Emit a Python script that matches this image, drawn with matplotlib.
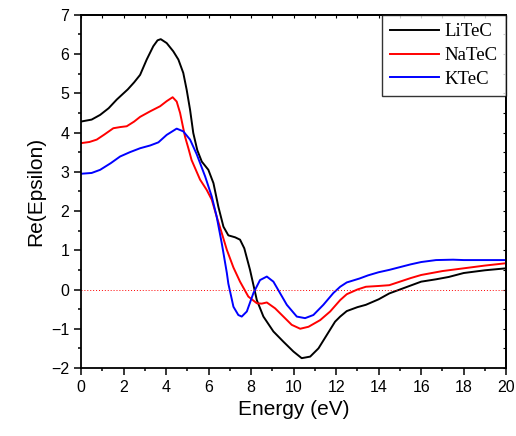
import numpy as np
import matplotlib
matplotlib.use('Agg')
import matplotlib.pyplot as plt

# Re(epsilon) vs photon energy
e_li = [0.0, 0.5, 0.9, 1.3, 1.68, 2.2, 2.5, 2.78, 3.09, 3.4, 3.6, 3.75, 4.03, 4.34, 4.58,
        4.81, 4.97, 5.13, 5.28, 5.47, 5.68, 5.99, 6.23, 6.46, 6.7, 6.93, 7.25, 7.48, 7.68,
        7.95, 8.27, 8.58, 9.05, 9.52, 9.99, 10.38, 10.78, 11.17, 11.56, 11.95, 12.19, 12.5,
        13.0, 13.4, 14.0, 14.5, 15.0, 15.5, 16.0, 16.7, 17.3, 18.0, 19.0, 20.0]
v_li = [4.28, 4.33, 4.45, 4.62, 4.84, 5.1, 5.28, 5.47, 5.86, 6.2, 6.35, 6.38, 6.28, 6.07, 5.86,
        5.52, 5.09, 4.58, 3.99, 3.55, 3.26, 3.05, 2.71, 2.11, 1.6, 1.38, 1.33, 1.27, 1.05,
        0.5, -0.27, -0.69, -1.07, -1.33, -1.58, -1.75, -1.71, -1.5, -1.16, -0.82, -0.69, -0.55,
        -0.45, -0.39, -0.25, -0.1, 0.0, 0.1, 0.2, 0.26, 0.32, 0.42, 0.49, 0.54]

e_na = [0.0, 0.4, 0.74, 1.1, 1.52, 1.85, 2.15, 2.5, 2.78, 3.25, 3.72, 4.03, 4.31, 4.5, 4.66,
        4.89, 5.05, 5.2, 5.36, 5.6, 5.91, 6.15, 6.38, 6.62, 6.86, 7.17, 7.48, 7.87, 8.27,
        8.5, 8.74, 9.13, 9.52, 9.91, 10.31, 10.7, 11.25, 11.72, 12.19, 12.5, 13.0, 13.4,
        14.0, 14.5, 15.0, 15.5, 16.0, 17.0, 18.0, 19.0, 20.0]
v_na = [3.73, 3.76, 3.82, 3.95, 4.11, 4.14, 4.16, 4.28, 4.4, 4.54, 4.67, 4.8, 4.9, 4.79, 4.5,
        3.9, 3.6, 3.3, 3.1, 2.8, 2.54, 2.29, 1.86, 1.44, 1.01, 0.56, 0.2, -0.18, -0.35,
        -0.36, -0.33, -0.48, -0.69, -0.9, -1.0, -0.95, -0.78, -0.56, -0.27, -0.12, 0.0, 0.07,
        0.09, 0.11, 0.2, 0.29, 0.37, 0.47, 0.54, 0.61, 0.67]

e_k = [0.0, 0.5, 0.9, 1.4, 1.84, 2.3, 2.78, 3.25, 3.64, 4.03, 4.5, 4.81, 5.13, 5.44, 5.84,
       6.15, 6.38, 6.62, 6.7, 6.86, 6.93, 7.17, 7.4, 7.56, 7.8, 8.11, 8.42, 8.74, 9.05,
       9.36, 9.68, 10.15, 10.54, 10.93, 11.4, 11.87, 12.19, 12.5, 13.1, 13.5, 14.0, 14.5,
       15.0, 15.5, 16.0, 16.7, 17.5, 18.0, 19.0, 20.0]
v_k = [2.95, 2.97, 3.05, 3.22, 3.39, 3.5, 3.6, 3.67, 3.75, 3.94, 4.1, 4.03, 3.82, 3.45, 2.88,
       2.37, 1.86, 1.18, 0.93, 0.42, 0.15, -0.44, -0.65, -0.69, -0.56, -0.09, 0.24, 0.33, 0.2,
       -0.09, -0.39, -0.69, -0.73, -0.65, -0.39, -0.09, 0.07, 0.18, 0.28, 0.36, 0.44, 0.5,
       0.57, 0.64, 0.7, 0.75, 0.76, 0.75, 0.75, 0.75]

labels = ['LiTeC', 'NaTeC', 'KTeC']
colors = ['black', 'red', 'blue']

plt.rcParams['font.family'] = ['Liberation Sans', 'DejaVu Sans']
fig = plt.figure(figsize=(5.16, 4.36), dpi=100)
ax = fig.add_axes([0.157, 0.156, 0.824, 0.81])

for e, v, lab, c in zip([e_li, e_na, e_k], [v_li, v_na, v_k], labels, colors):
    ax.plot(e, v, color=c, lw=1.4, label=lab, solid_joinstyle='round')
ax.plot([0, 20], [0, 0], color='red', lw=0.7, ls=(0, (1, 2)))

ax.set_xlim(0, 20)
ax.set_ylim(-2, 7)
ax.set_xticks(np.arange(0, 21, 2))
ax.set_yticks(np.arange(-2, 8, 1))
ax.set_xticks(np.arange(0, 21, 1), minor=True)
ax.set_yticks(np.arange(-2, 7.01, 0.5), minor=True)
ax.tick_params(which='both', direction='out', labelsize=11.5, width=1.1)
ax.tick_params(which='major', length=5)
ax.tick_params(which='minor', length=2.5)

# Origin-style short inner ticks on the opposite spines
sec_x = ax.secondary_xaxis('top')
sec_x.set_xticks(np.arange(0, 21, 1))
sec_x.tick_params(direction='in', length=2, width=0.8, labeltop=False)
sec_y = ax.secondary_yaxis('right')
sec_y.set_yticks(np.arange(-2, 7.01, 0.5))
sec_y.tick_params(direction='in', length=2, width=0.8, labelright=False)
for s in ax.spines.values():
    s.set_linewidth(1.3)
sec_x.spines['top'].set_linewidth(1.3)
sec_y.spines['right'].set_linewidth(1.3)

ax.set_xlabel('Energy (eV)', fontsize=15)
ax.set_ylabel('Re(Epsilon)', fontsize=15)

leg = ax.legend(loc='upper right', frameon=True, fancybox=False, edgecolor='black',
                prop={'family': 'Liberation Serif', 'size': 13.5}, handlelength=2.6,
                borderaxespad=0.0, labelspacing=0.35, handletextpad=0.3, borderpad=0.45)
leg.get_frame().set_linewidth(1.0)

fig.savefig('out.png', dpi=100)
